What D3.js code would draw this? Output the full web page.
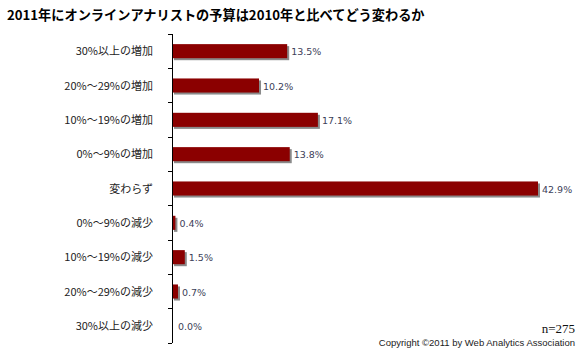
<!DOCTYPE html>
<html lang="ja">
<head>
<meta charset="UTF-8">
<title>オンラインアナリストの予算</title>
<script src="https://d3js.org/d3.v7.min.js"></script>
<style>
    body { margin: 0; background: #fff; }
    .title { font-family: "Noto Sans CJK JP", sans-serif; font-weight: bold; font-size: 13.2px; fill: #000; }
    .cat { font-family: "Noto Sans CJK JP", sans-serif; font-size: 11px; fill: #222; }
    .val { font-family: "DejaVu Sans", sans-serif; font-size: 9.5px; fill: #3c4058; }
    .axis path, .axis line { stroke: #000; shape-rendering: crispEdges; }
    .n { font-family: "Liberation Serif", "DejaVu Serif", serif; font-size: 13px; fill: #111; }
    .copy { font-family: "Liberation Sans", Arial, sans-serif; font-size: 9.5px; fill: #222; }
</style>
</head>
<body>
<svg width="580" height="354"></svg>
<script>
    // data
    const categories = ["30%以上の増加", "20%～29%の増加", "10%～19%の増加", "0%～9%の増加", "変わらず",
        "0%～9%の減少", "10%～19%の減少", "20%～29%の減少", "30%以上の減少"];
    const values = [13.5, 10.2, 17.1, 13.8, 42.9, 0.4, 1.5, 0.7, 0.0];

    const data = categories.map((c, i) => ({cat: c, value: values[i]}));

    const margin = {top: 34, left: 172};
    const plotH = 309, plotW = 366;

    const svg = d3.select("svg");

    svg.append("text")
        .attr("class", "title")
        .attr("x", 7).attr("y", 20)
        .text("2011年にオンラインアナリストの予算は2010年と比べてどう変わるか");

    const x = d3.scaleLinear().domain([0, 42.9]).range([0, plotW]);
    const y = d3.scaleBand().domain(categories).range([0, plotH]).paddingInner(0.59).paddingOuter(0.295);

    const g = svg.append("g").attr("transform", "translate(" + margin.left + "," + margin.top + ")");

    // shadows
    g.selectAll(".shadow").data(data).enter().append("rect")
        .attr("x", 2).attr("y", d => y(d.cat) + 2)
        .attr("width", d => x(d.value))
        .attr("height", y.bandwidth())
        .attr("fill", d => d.value > 0 ? "#8a8a8a" : "none");

    // bars
    g.selectAll(".bar").data(data).enter().append("rect")
        .attr("x", 0).attr("y", d => y(d.cat))
        .attr("width", d => x(d.value))
        .attr("height", y.bandwidth())
        .attr("fill", "#8b0000");

    // value labels
    g.selectAll(".val").data(data).enter().append("text")
        .attr("class", "val")
        .attr("x", d => x(d.value) + (d.value > 0 ? 4 : 6))
        .attr("y", d => y(d.cat) + y.bandwidth() / 2 + 4)
        .text(d => d.value.toFixed(1) + "%");

    // category axis with boundary ticks
    const axisG = g.append("g").attr("class", "axis");
    axisG.append("line").attr("x1", 0).attr("x2", 0).attr("y1", 0).attr("y2", plotH);
    const step = y.step();
    axisG.selectAll(".tk").data(d3.range(categories.length + 1)).enter().append("line")
        .attr("x1", -4).attr("x2", 0)
        .attr("y1", i => i * step).attr("y2", i => i * step);

    g.selectAll(".cat").data(data).enter().append("text")
        .attr("class", "cat")
        .attr("x", -19)
        .attr("y", d => y(d.cat) + y.bandwidth() / 2 + 4)
        .attr("text-anchor", "end")
        .text(d => d.cat);

    svg.append("text")
        .attr("class", "n")
        .attr("x", 575).attr("y", 333)
        .attr("text-anchor", "end")
        .text("n=275");

    svg.append("text")
        .attr("class", "copy")
        .attr("x", 575).attr("y", 346)
        .attr("text-anchor", "end")
        .text("Copyright ©2011 by Web Analytics Association");
</script>
</body>
</html>
